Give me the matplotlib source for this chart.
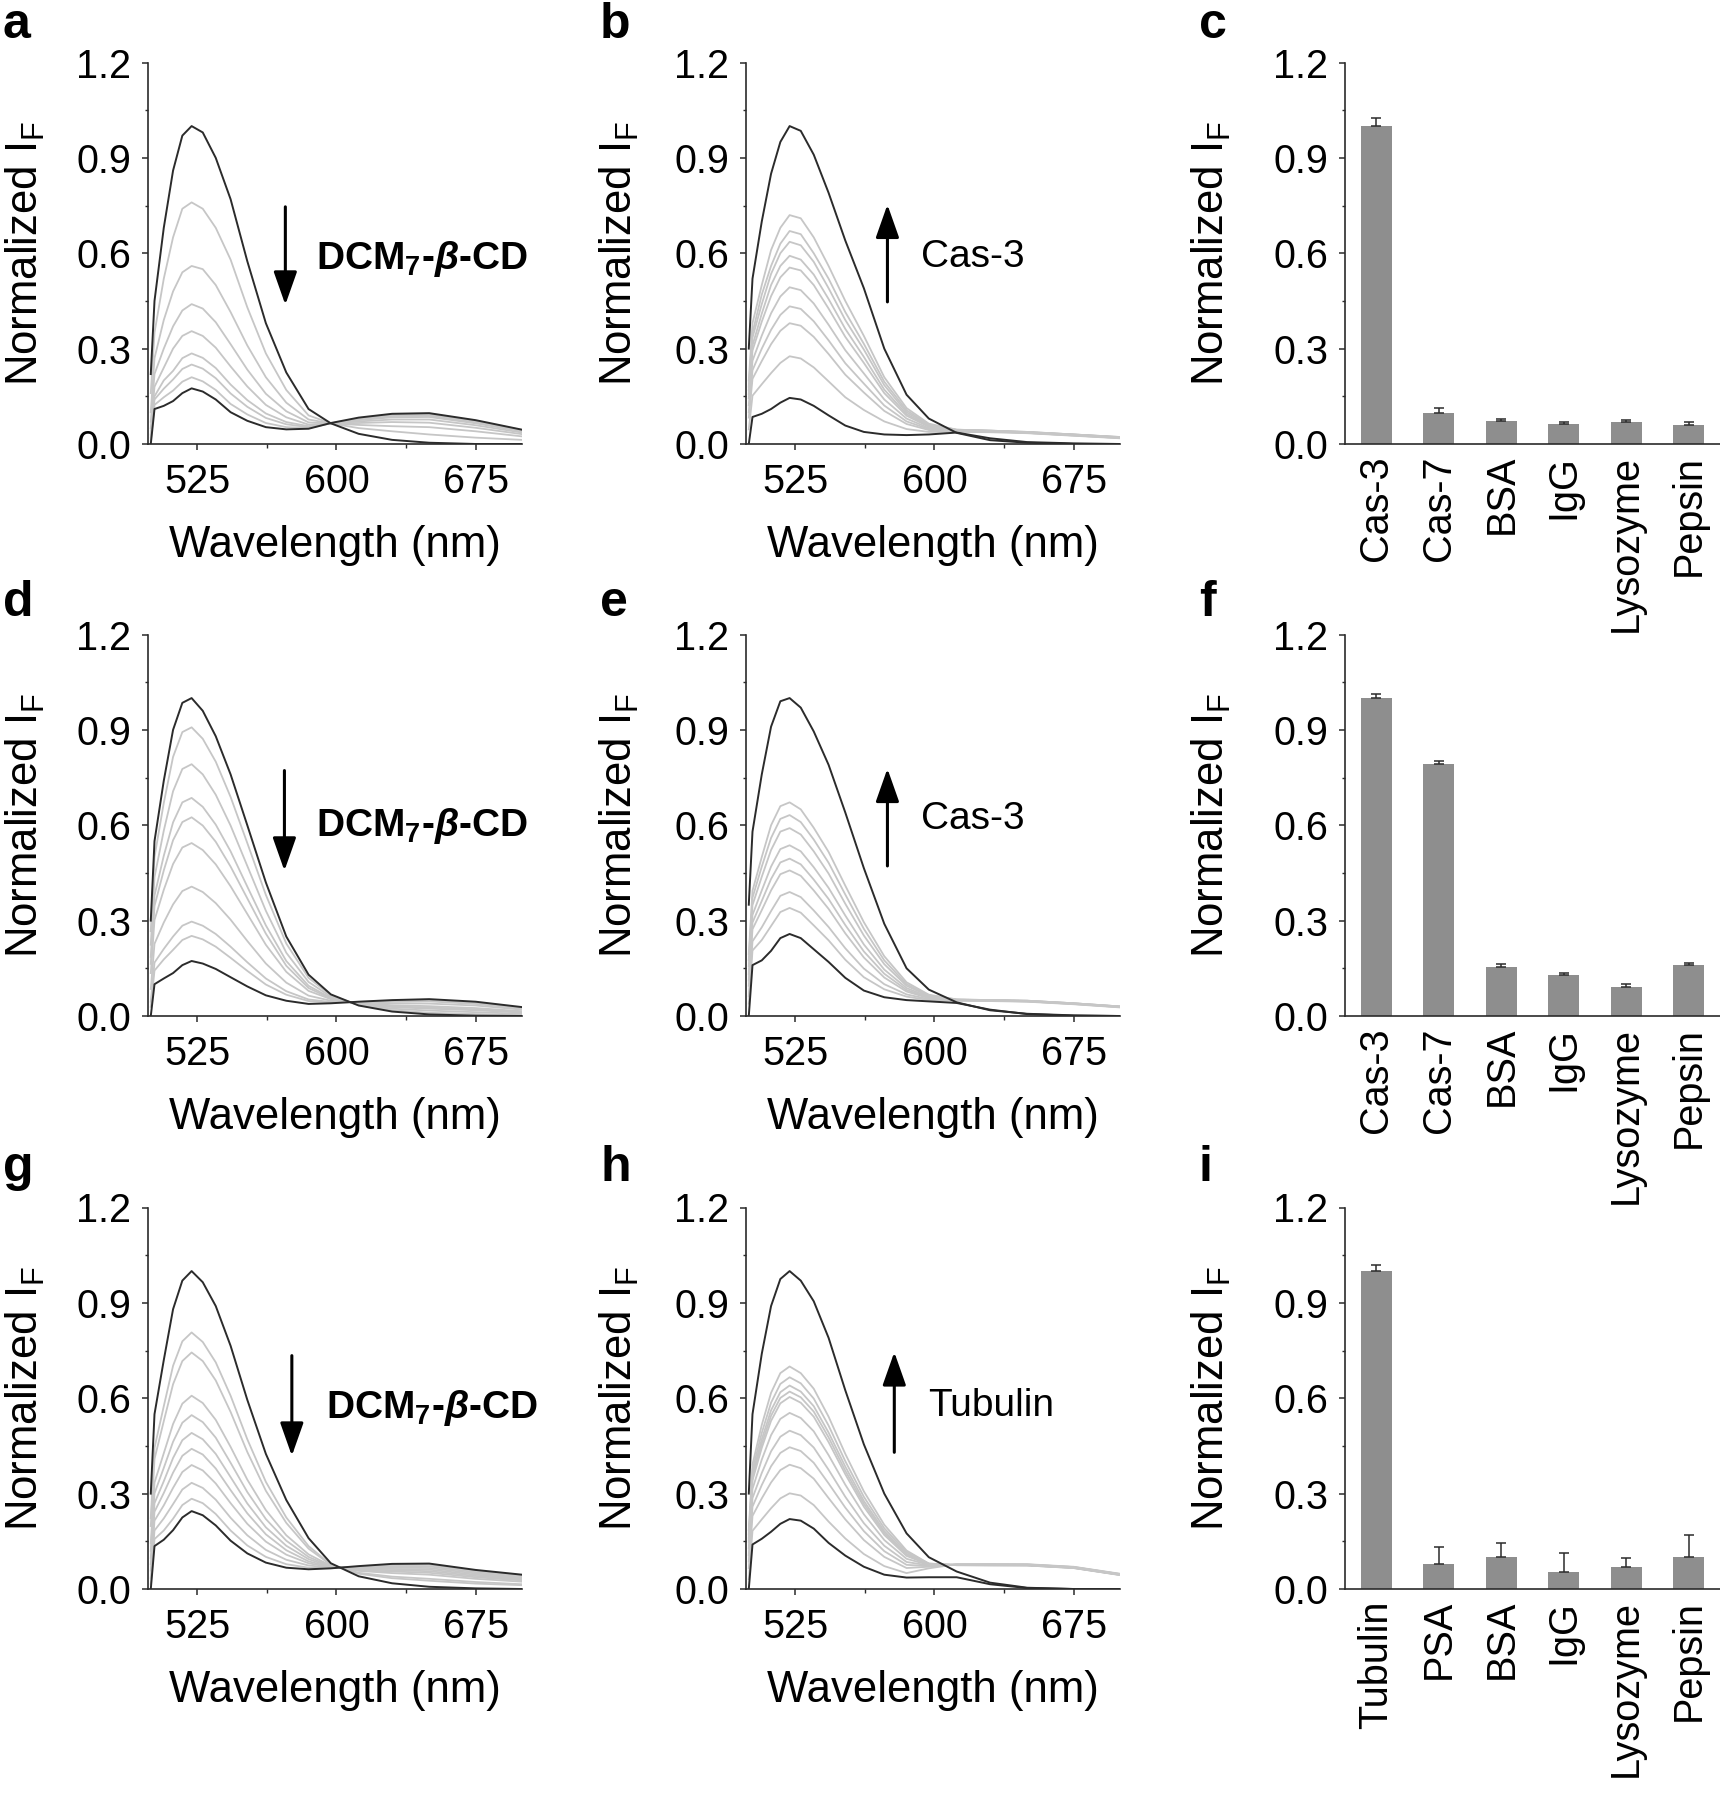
import matplotlib
matplotlib.use('Agg')
import matplotlib.pyplot as plt
from matplotlib.ticker import MultipleLocator, FormatStrFormatter

plt.rcParams['font.family'] = ['Liberation Sans', 'DejaVu Sans']
plt.rcParams['mathtext.fontset'] = 'custom'
plt.rcParams['mathtext.rm'] = 'Liberation Sans'
plt.rcParams['mathtext.it'] = 'Liberation Sans:italic:bold'
plt.rcParams['mathtext.bf'] = 'Liberation Sans:bold'

# wavelength grid (nm) shared by all spectra
wl = [500, 502, 507, 512, 517, 522, 528, 535, 543, 552, 562, 573, 585, 597, 612, 630, 650, 675, 700]

# panel a
a_top = [0.22, 0.45, 0.68, 0.86, 0.97, 1.00, 0.98, 0.90, 0.77, 0.575, 0.38, 0.225, 0.11, 0.065, 0.032, 0.013, 0.004, 0.0, 0.0]
a_bottom = [0.0, 0.11, 0.12, 0.135, 0.16, 0.175, 0.165, 0.14, 0.10, 0.073, 0.053, 0.046, 0.048, 0.066, 0.083, 0.095, 0.097, 0.075, 0.045]
a_grays = [
    [0.16, 0.35, 0.52, 0.65, 0.74, 0.76, 0.74, 0.68, 0.58, 0.43, 0.285, 0.17, 0.09, 0.065, 0.05, 0.04, 0.03, 0.02, 0.013],
    [0.10, 0.27, 0.39, 0.48, 0.54, 0.56, 0.55, 0.50, 0.415, 0.31, 0.21, 0.13, 0.077, 0.065, 0.06, 0.056, 0.053, 0.04, 0.024],
    [0.07, 0.22, 0.30, 0.37, 0.42, 0.44, 0.426, 0.383, 0.314, 0.234, 0.158, 0.103, 0.068, 0.065, 0.066, 0.069, 0.067, 0.051, 0.031],
    [0.05, 0.18, 0.24, 0.30, 0.34, 0.355, 0.34, 0.303, 0.244, 0.181, 0.123, 0.084, 0.061, 0.065, 0.071, 0.077, 0.077, 0.059, 0.036],
    [0.03, 0.15, 0.20, 0.23, 0.27, 0.285, 0.271, 0.239, 0.187, 0.138, 0.096, 0.069, 0.056, 0.065, 0.075, 0.084, 0.085, 0.065, 0.04],
    [0.02, 0.14, 0.174, 0.203, 0.236, 0.25, 0.237, 0.207, 0.159, 0.117, 0.082, 0.062, 0.053, 0.065, 0.078, 0.088, 0.089, 0.068, 0.042],
    [0.01, 0.123, 0.147, 0.168, 0.196, 0.21, 0.197, 0.17, 0.126, 0.093, 0.066, 0.053, 0.05, 0.065, 0.08, 0.092, 0.093, 0.072, 0.044],
]

# panel b
b_top = [0.30, 0.52, 0.70, 0.85, 0.95, 1.0, 0.985, 0.91, 0.79, 0.64, 0.49, 0.30, 0.155, 0.08, 0.035, 0.012, 0.004, 0.0, 0.0]
b_bottom = [0.0, 0.085, 0.095, 0.11, 0.13, 0.145, 0.14, 0.12, 0.09, 0.058, 0.038, 0.03, 0.028, 0.03, 0.036, 0.018, 0.006, 0.002, 0.0]
b_grays = [
    [0.20, 0.38, 0.50, 0.61, 0.68, 0.72, 0.71, 0.65, 0.56, 0.45, 0.34, 0.21, 0.113, 0.064, 0.045, 0.042, 0.038, 0.03, 0.022],
    [0.18, 0.35, 0.47, 0.56, 0.63, 0.67, 0.66, 0.60, 0.52, 0.415, 0.315, 0.196, 0.106, 0.061, 0.045, 0.042, 0.038, 0.03, 0.022],
    [0.17, 0.335, 0.44, 0.535, 0.60, 0.636, 0.625, 0.573, 0.49, 0.39, 0.297, 0.185, 0.10, 0.059, 0.044, 0.042, 0.037, 0.03, 0.021],
    [0.157, 0.31, 0.41, 0.50, 0.56, 0.592, 0.58, 0.533, 0.456, 0.362, 0.274, 0.171, 0.094, 0.056, 0.044, 0.041, 0.037, 0.029, 0.021],
    [0.144, 0.294, 0.385, 0.465, 0.524, 0.555, 0.546, 0.50, 0.426, 0.337, 0.255, 0.16, 0.089, 0.054, 0.043, 0.041, 0.036, 0.029, 0.02],
    [0.122, 0.262, 0.341, 0.411, 0.464, 0.493, 0.484, 0.442, 0.375, 0.295, 0.222, 0.14, 0.08, 0.05, 0.042, 0.04, 0.036, 0.028, 0.02],
    [0.10, 0.232, 0.30, 0.359, 0.406, 0.433, 0.425, 0.386, 0.326, 0.254, 0.19, 0.121, 0.071, 0.047, 0.041, 0.04, 0.035, 0.027, 0.019],
    [0.083, 0.205, 0.261, 0.314, 0.356, 0.38, 0.372, 0.337, 0.283, 0.218, 0.162, 0.104, 0.063, 0.044, 0.04, 0.039, 0.035, 0.027, 0.019],
    [0.046, 0.152, 0.188, 0.223, 0.255, 0.276, 0.269, 0.241, 0.197, 0.147, 0.107, 0.071, 0.047, 0.038, 0.038, 0.037, 0.034, 0.026, 0.018],
]

# panel d
d_top = [0.30, 0.55, 0.74, 0.90, 0.985, 1.0, 0.96, 0.88, 0.76, 0.60, 0.42, 0.25, 0.13, 0.068, 0.033, 0.014, 0.005, 0.001, 0.0]
d_bottom = [0.0, 0.10, 0.118, 0.135, 0.16, 0.173, 0.165, 0.148, 0.122, 0.093, 0.065, 0.048, 0.038, 0.04, 0.045, 0.05, 0.053, 0.045, 0.028]
d_grays = [
    [0.267, 0.50, 0.67, 0.815, 0.893, 0.908, 0.872, 0.80, 0.689, 0.544, 0.381, 0.228, 0.12, 0.065, 0.034, 0.018, 0.01, 0.006, 0.003],
    [0.224, 0.437, 0.583, 0.707, 0.777, 0.792, 0.76, 0.696, 0.599, 0.472, 0.331, 0.199, 0.107, 0.061, 0.036, 0.023, 0.017, 0.012, 0.007],
    [0.186, 0.379, 0.504, 0.609, 0.672, 0.686, 0.658, 0.602, 0.518, 0.407, 0.285, 0.173, 0.095, 0.057, 0.038, 0.028, 0.023, 0.018, 0.011],
    [0.164, 0.346, 0.458, 0.553, 0.61, 0.625, 0.599, 0.548, 0.47, 0.37, 0.259, 0.158, 0.088, 0.055, 0.038, 0.03, 0.027, 0.021, 0.013],
    [0.135, 0.302, 0.397, 0.478, 0.53, 0.544, 0.522, 0.477, 0.408, 0.321, 0.224, 0.139, 0.079, 0.053, 0.04, 0.034, 0.031, 0.025, 0.015],
    [0.085, 0.227, 0.294, 0.351, 0.393, 0.407, 0.39, 0.355, 0.303, 0.236, 0.165, 0.105, 0.064, 0.048, 0.042, 0.04, 0.039, 0.033, 0.02],
    [0.045, 0.168, 0.211, 0.25, 0.284, 0.297, 0.284, 0.258, 0.218, 0.169, 0.118, 0.078, 0.052, 0.044, 0.043, 0.045, 0.046, 0.038, 0.024],
    [0.029, 0.143, 0.178, 0.208, 0.239, 0.252, 0.241, 0.218, 0.183, 0.142, 0.099, 0.067, 0.047, 0.043, 0.044, 0.047, 0.048, 0.041, 0.025],
]

# panel e
e_top = [0.35, 0.58, 0.76, 0.91, 0.99, 1.0, 0.97, 0.895, 0.79, 0.64, 0.465, 0.29, 0.15, 0.083, 0.043, 0.018, 0.007, 0.002, 0.0]
e_bottom = [0.0, 0.16, 0.175, 0.205, 0.245, 0.258, 0.245, 0.21, 0.17, 0.12, 0.08, 0.059, 0.05, 0.046, 0.041, 0.02, 0.006, 0.001, 0.0]
e_grays = [
    [0.195, 0.394, 0.50, 0.60, 0.66, 0.672, 0.65, 0.592, 0.516, 0.41, 0.295, 0.188, 0.106, 0.067, 0.052, 0.05, 0.048, 0.04, 0.03],
    [0.176, 0.372, 0.47, 0.56, 0.62, 0.632, 0.61, 0.555, 0.482, 0.382, 0.274, 0.175, 0.10, 0.065, 0.052, 0.05, 0.048, 0.04, 0.03],
    [0.157, 0.349, 0.438, 0.522, 0.58, 0.591, 0.571, 0.518, 0.448, 0.353, 0.253, 0.163, 0.095, 0.063, 0.051, 0.05, 0.048, 0.04, 0.03],
    [0.132, 0.318, 0.395, 0.47, 0.525, 0.537, 0.518, 0.468, 0.403, 0.316, 0.225, 0.146, 0.088, 0.06, 0.051, 0.05, 0.047, 0.039, 0.029],
    [0.112, 0.294, 0.362, 0.431, 0.483, 0.495, 0.477, 0.429, 0.368, 0.286, 0.203, 0.133, 0.082, 0.058, 0.05, 0.049, 0.047, 0.039, 0.029],
    [0.095, 0.273, 0.333, 0.395, 0.446, 0.458, 0.441, 0.395, 0.337, 0.26, 0.184, 0.121, 0.077, 0.056, 0.05, 0.049, 0.046, 0.038, 0.028],
    [0.062, 0.235, 0.279, 0.33, 0.378, 0.39, 0.374, 0.332, 0.28, 0.213, 0.149, 0.10, 0.068, 0.053, 0.049, 0.048, 0.046, 0.038, 0.028],
    [0.039, 0.206, 0.239, 0.283, 0.327, 0.34, 0.325, 0.285, 0.238, 0.177, 0.122, 0.084, 0.061, 0.05, 0.048, 0.047, 0.045, 0.037, 0.027],
]

# panel g
g_top = [0.30, 0.55, 0.72, 0.88, 0.97, 1.0, 0.965, 0.89, 0.765, 0.595, 0.425, 0.28, 0.16, 0.081, 0.04, 0.018, 0.007, 0.002, 0.0]
g_bottom = [0.0, 0.135, 0.155, 0.185, 0.225, 0.245, 0.232, 0.20, 0.152, 0.112, 0.083, 0.067, 0.062, 0.065, 0.072, 0.079, 0.08, 0.06, 0.045]
g_grays = [
    [0.223, 0.444, 0.575, 0.702, 0.779, 0.807, 0.777, 0.713, 0.608, 0.471, 0.337, 0.225, 0.135, 0.077, 0.048, 0.034, 0.026, 0.017, 0.012],
    [0.198, 0.409, 0.528, 0.644, 0.717, 0.744, 0.717, 0.656, 0.557, 0.431, 0.309, 0.208, 0.127, 0.076, 0.051, 0.039, 0.032, 0.022, 0.015],
    [0.144, 0.335, 0.427, 0.519, 0.583, 0.608, 0.585, 0.532, 0.447, 0.344, 0.248, 0.169, 0.109, 0.073, 0.057, 0.05, 0.045, 0.032, 0.023],
    [0.12, 0.301, 0.381, 0.463, 0.523, 0.547, 0.525, 0.476, 0.397, 0.305, 0.22, 0.152, 0.101, 0.071, 0.059, 0.055, 0.051, 0.037, 0.027],
    [0.098, 0.27, 0.339, 0.412, 0.468, 0.491, 0.471, 0.425, 0.352, 0.269, 0.194, 0.136, 0.094, 0.07, 0.062, 0.059, 0.056, 0.041, 0.03],
    [0.078, 0.243, 0.302, 0.366, 0.419, 0.441, 0.423, 0.379, 0.311, 0.238, 0.172, 0.122, 0.087, 0.069, 0.064, 0.063, 0.061, 0.045, 0.033],
    [0.058, 0.215, 0.263, 0.318, 0.368, 0.39, 0.373, 0.332, 0.27, 0.205, 0.149, 0.108, 0.081, 0.068, 0.066, 0.067, 0.066, 0.049, 0.036],
    [0.035, 0.184, 0.222, 0.267, 0.313, 0.334, 0.318, 0.281, 0.224, 0.169, 0.123, 0.092, 0.074, 0.067, 0.068, 0.072, 0.071, 0.053, 0.04],
    [0.016, 0.157, 0.184, 0.221, 0.264, 0.284, 0.27, 0.236, 0.184, 0.137, 0.101, 0.078, 0.067, 0.066, 0.07, 0.076, 0.076, 0.057, 0.043],
]

# panel h
h_top = [0.30, 0.55, 0.74, 0.89, 0.975, 1.0, 0.97, 0.905, 0.79, 0.625, 0.455, 0.30, 0.175, 0.10, 0.055, 0.02, 0.004, 0.0, 0.0]
h_bottom = [0.0, 0.14, 0.158, 0.18, 0.205, 0.22, 0.215, 0.19, 0.145, 0.105, 0.07, 0.045, 0.036, 0.037, 0.037, 0.015, 0.003, 0.0, 0.0]
h_grays = [
    [0.185, 0.392, 0.516, 0.617, 0.679, 0.70, 0.679, 0.63, 0.542, 0.425, 0.307, 0.202, 0.121, 0.08, 0.075, 0.074, 0.074, 0.066, 0.044],
    [0.172, 0.375, 0.491, 0.586, 0.645, 0.666, 0.647, 0.599, 0.514, 0.402, 0.29, 0.191, 0.116, 0.08, 0.075, 0.075, 0.074, 0.066, 0.044],
    [0.161, 0.361, 0.471, 0.562, 0.619, 0.64, 0.621, 0.575, 0.492, 0.385, 0.277, 0.182, 0.111, 0.079, 0.075, 0.075, 0.075, 0.067, 0.045],
    [0.154, 0.351, 0.457, 0.545, 0.601, 0.621, 0.603, 0.558, 0.477, 0.372, 0.268, 0.176, 0.107, 0.078, 0.076, 0.075, 0.075, 0.067, 0.045],
    [0.148, 0.342, 0.444, 0.529, 0.584, 0.604, 0.586, 0.542, 0.462, 0.361, 0.259, 0.17, 0.104, 0.077, 0.076, 0.076, 0.075, 0.067, 0.045],
    [0.128, 0.315, 0.407, 0.484, 0.535, 0.554, 0.538, 0.496, 0.421, 0.328, 0.235, 0.154, 0.095, 0.076, 0.076, 0.076, 0.076, 0.068, 0.046],
    [0.107, 0.286, 0.365, 0.433, 0.479, 0.498, 0.484, 0.445, 0.375, 0.29, 0.207, 0.136, 0.085, 0.074, 0.077, 0.077, 0.076, 0.068, 0.046],
    [0.087, 0.259, 0.327, 0.386, 0.428, 0.446, 0.434, 0.397, 0.332, 0.256, 0.182, 0.119, 0.076, 0.072, 0.077, 0.077, 0.077, 0.069, 0.047],
    [0.066, 0.23, 0.285, 0.335, 0.374, 0.391, 0.38, 0.347, 0.286, 0.219, 0.154, 0.101, 0.066, 0.07, 0.077, 0.078, 0.077, 0.069, 0.047],
    [0.031, 0.183, 0.219, 0.254, 0.285, 0.301, 0.294, 0.264, 0.212, 0.159, 0.11, 0.072, 0.05, 0.065, 0.078, 0.078, 0.078, 0.07, 0.048],
]

# bar panels
c_labels = ['Cas-3', 'Cas-7', 'BSA', 'IgG', 'Lysozyme', 'Pepsin']
c_vals = [1.0, 0.096, 0.072, 0.062, 0.068, 0.06]
c_err = [0.025, 0.018, 0.008, 0.006, 0.007, 0.01]
f_labels = ['Cas-3', 'Cas-7', 'BSA', 'IgG', 'Lysozyme', 'Pepsin']
f_vals = [1.0, 0.793, 0.153, 0.13, 0.092, 0.159]
f_err = [0.012, 0.01, 0.012, 0.004, 0.01, 0.008]
i_labels = ['Tubulin', 'PSA', 'BSA', 'IgG', 'Lysozyme', 'Pepsin']
i_vals = [1.0, 0.08, 0.10, 0.053, 0.07, 0.10]
i_err = [0.02, 0.053, 0.044, 0.06, 0.029, 0.07]

DCM = r'DCM$_\mathregular{7}$-$\beta$-CD'

W, H = 1720, 1800
fig = plt.figure(figsize=(W / 100, H / 100), dpi=100)

col_left = [148, 746, 1345]
row_base = [444, 1016, 1589]
ax_h = 381.5
ylab_x = [-0.329, -0.339, -0.355]
letter_x = [3, 600, 1199]
letter_base = [38, 616, 1181]

TICK = 28.5
LAB = 31.5
DARK = '#2b2b2b'
GRAY = '#c6c6c6'


def make_ax(col, row, width):
    ax = fig.add_axes([col_left[col] / W, 1 - row_base[row] / H, width / W, ax_h / H])
    ax.spines['top'].set_visible(False)
    ax.spines['right'].set_visible(False)
    for s in ('left', 'bottom'):
        ax.spines[s].set_linewidth(1.2)
        ax.spines[s].set_color(DARK)
    ax.set_ylim(0, 1.2)
    ax.yaxis.set_major_locator(MultipleLocator(0.3))
    ax.yaxis.set_minor_locator(MultipleLocator(0.15))
    ax.yaxis.set_major_formatter(FormatStrFormatter('%.1f'))
    ax.tick_params(axis='y', which='major', direction='out', length=4, width=1.1,
                   labelsize=TICK, pad=8, color=DARK)
    ax.tick_params(axis='y', which='minor', direction='out', length=2.5, width=1.0, color=DARK)
    ax.set_ylabel(r'Normalized I$_\mathregular{F}$', fontsize=LAB)
    ax.yaxis.set_label_coords(ylab_x[col], 0.5)
    ax.yaxis.label.set_va('center')
    fig.text(letter_x[col] / W, 1 - letter_base[row] / H, 'abcdefghi'[row * 3 + col],
             fontsize=36, fontweight='bold', ha='left', va='baseline')
    return ax


def spectra(col, row, top, bottom, grays, arrow, text, tpos, bold):
    ax = make_ax(col, row, 374)
    for g in grays:
        ax.plot(wl, g, color=GRAY, lw=1.3, zorder=2)
    ax.plot(wl, bottom, color=DARK, lw=1.4, zorder=3)
    ax.plot(wl, top, color=DARK, lw=1.4, zorder=3)
    ax.set_xlim(498.5, 700)
    ax.set_xticks([525, 600, 675])
    ax.xaxis.set_minor_locator(MultipleLocator(37.5))
    ax.tick_params(axis='x', which='major', direction='out', length=4, width=1.1,
                   labelsize=TICK, pad=10, color=DARK)
    ax.tick_params(axis='x', which='minor', direction='out', length=3, width=1.0, color=DARK)
    ax.set_xlabel('Wavelength (nm)', fontsize=LAB)
    ax.xaxis.set_label_coords(0.5, -0.265)
    ax.xaxis.label.set_va('center')
    ax_x, y0, y1 = arrow
    ax.annotate('', xy=(ax_x, y1), xytext=(ax_x, y0),
                arrowprops=dict(arrowstyle='-|>,head_length=0.85,head_width=0.3',
                                mutation_scale=24, lw=2.2, color='black',
                                shrinkA=0, shrinkB=0))
    ax.text(tpos[0], tpos[1], text, fontsize=28,
            fontweight='bold' if bold else 'normal', ha='left', va='center')


def bars(col, row, labels, vals, errs):
    ax = make_ax(col, row, W - col_left[col])
    x = list(range(len(labels)))
    ax.bar(x, vals, width=0.5, color='#8e8e8e', zorder=2)
    ax.errorbar(x, vals, yerr=[[0] * len(errs), errs], fmt='none', ecolor=DARK,
                elinewidth=1.1, capsize=3.6, capthick=1.1, zorder=3)
    ax.set_xlim(-0.5, 5.5)
    ax.set_xticks(x)
    ax.set_xticklabels(labels, rotation=90)
    ax.tick_params(axis='x', length=0, labelsize=TICK, pad=8)


spectra(0, 0, a_top, a_bottom, a_grays, (572.5, 0.746, 0.438), DCM, (589, 0.583), True)
spectra(1, 0, b_top, b_bottom, b_grays, (574.7, 0.447, 0.753), 'Cas-3', (592.8, 0.589), False)
bars(2, 0, c_labels, c_vals, c_err)
spectra(0, 1, d_top, d_bottom, d_grays, (572, 0.772, 0.457), DCM, (589, 0.598), True)
spectra(1, 1, e_top, e_bottom, e_grays, (574.7, 0.472, 0.778), 'Cas-3', (592.8, 0.62), False)
bars(2, 1, f_labels, f_vals, f_err)
spectra(0, 2, g_top, g_bottom, g_grays, (576, 0.734, 0.419), DCM, (594.6, 0.57), True)
spectra(1, 2, h_top, h_bottom, h_grays, (578.4, 0.43, 0.745), 'Tubulin', (596.5, 0.576), False)
bars(2, 2, i_labels, i_vals, i_err)

fig.savefig('out.png', dpi=100)
